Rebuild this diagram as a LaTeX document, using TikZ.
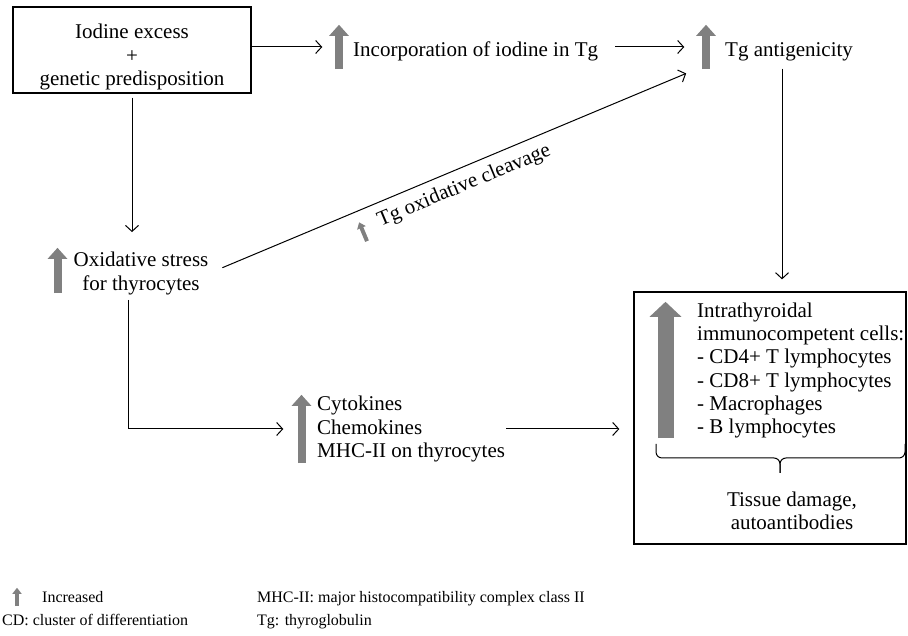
\documentclass[tikz,border=0pt]{standalone}
\usepackage{fontspec}
\setmainfont{Liberation Serif}
\usetikzlibrary{arrows.meta}
\tikzset{
    every node/.style={align=center, inner sep=0pt, font=\fontsize{21pt}{23.3pt}\selectfont},
    framed/.style={draw, rectangle, line width=1.3pt},
    link/.style={line width=1pt, -{Straight Barb[length=6pt, width=13pt]}},
    risearrow/.style n args={4}{minimum width=#1, minimum height=#2,
        append after command={(\tikzlastnode.south) edge[draw=gray, line width=#3, -{Triangle[width=#1, length=#4]}] (\tikzlastnode.north)}},
    smallrise/.style={risearrow={19pt}{44pt}{8pt}{11pt}},
    tinyrise/.style={risearrow={9pt}{20pt}{4pt}{6pt}},
    legend/.style={font=\fontsize{16pt}{24pt}\selectfont},
    curly/.style={line width=1pt, rounded corners=6pt},
}

\begin{document}
\begin{tikzpicture}[x=1pt, y=1pt]
        \useasboundingbox (0,0) rectangle (908,636);

        % top row
        \node[framed, minimum width=238pt, minimum height=86pt] (iodine) at (132,586) {\rule{0pt}{29pt}Iodine excess\\+\\genetic predisposition};
        \node[smallrise] (incarrow) at (339,589) {};
        \node[anchor=base west] (incorp) at (353,579) {Incorporation of iodine in Tg};
        \node[smallrise] (tgarrow) at (706,589) {};
        \node[anchor=base west] (tganti) at (725,579) {Tg antigenicity};

        % middle row
        \node[risearrow={19pt}{45pt}{8pt}{11pt}] (oxidarrow) at (57.5,365.5) {};
        \node (oxid) at (141,362.5) {Oxidative stress\\for thyrocytes};
        \node[risearrow={19pt}{68pt}{8pt}{11pt}] (cytarrow) at (301.5,207) {};
        \node[anchor=west, align=left] (cytok) at (317,207) {Cytokines\\Chemokines\\MHC-II on thyrocytes};

        % immune cells box
        \node[framed, minimum width=272pt, minimum height=252pt] (immbox) at (770,218) {};
        \node[risearrow={31pt}{136pt}{16pt}{15pt}] (cellarrow) at (665.5,266) {};
        \node[anchor=west, align=left] (cells) at (697,265.5) {Intrathyroidal\\immunocompetent cells:\\- CD4+ T lymphocytes\\- CD8+ T lymphocytes\\- Macrophages\\- B lymphocytes};
        \coordinate (bracetip) at (780,163);
        \draw[curly] (656,192) -- (656,178) -- (780,178) -- (bracetip);
        \draw[curly] (905,192) -- (905,178) -- (780,178) -- (bracetip);
        \node (damage) at (792,125.5) {Tissue damage,\\autoantibodies};

        % connectors
        \draw[link, shorten >=7pt] (iodine.east |- incarrow) -- (incarrow.west);
        \draw[link, shorten <=17pt, shorten >=12pt] (incorp.east |- tgarrow) -- (tgarrow.west);
        \draw[link, shorten <=7pt, shorten >=12pt] ([xshift=-7pt]tganti.south) -- ([xshift=-7pt]tganti.south |- immbox.north);
        \draw[link, shorten <=4pt, shorten >=20pt] (iodine.south) -- (iodine.south |- oxid.north);
        \draw[link, shorten <=15pt, shorten >=11pt] (oxid.east) -- node[sloped, below=8pt, pos=0.51] (cleave) {Tg oxidative cleavage} (tgarrow.south west);
        \path (oxid.east) -- node[tinyrise, sloped, below=11pt, pos=0.30] (cleavearrow) {} (tgarrow.south west);
        \draw[link, shorten <=5pt, shorten >=8.5pt] ([xshift=-13pt]oxid.south) |- (cytarrow.west);
        \draw[link, shorten <=1pt, shorten >=14pt] (cytok.east) -- (cytok.east -| immbox.west);

        % legend
        \node[risearrow={9pt}{18pt}{4pt}{6pt}] (legarrow) at (17,39) {};
        \node[legend, anchor=base west] (increased) at (42,33) {Increased};
        \node[legend, anchor=base west] (cdnote) at (2,10) {CD: cluster of differentiation};
        \node[legend, anchor=base west] (mhcnote) at (257,33) {MHC-II: major histocompatibility complex class II};
        \node[legend, anchor=base west] (tgnote) at (257,10) {Tg: thyroglobulin};
\end{tikzpicture}
\end{document}
